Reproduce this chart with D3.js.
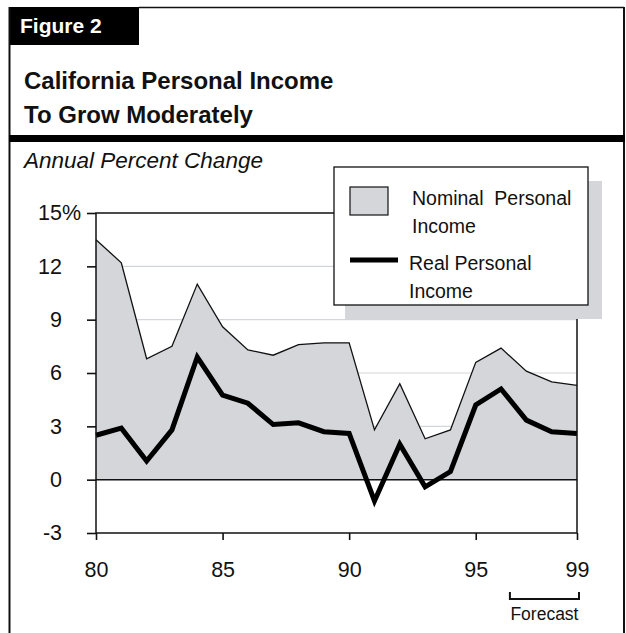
<!DOCTYPE html>
<html>
<head>
<meta charset="utf-8">
<script src="https://cdn.jsdelivr.net/npm/d3@7"></script>
<style>
  html, body { margin: 0; padding: 0; background: #fff; }
  svg { display: block; font-family: Arial, "Liberation Sans", sans-serif; }
</style>
</head>
<body>
<svg id="chart" width="626" height="633"></svg>
<script>
// Years shown on the horizontal axis (two-digit, 1980-1999)
const years = [80, 81, 82, 83, 84, 85, 86, 87, 88, 89, 90, 91, 92, 93, 94, 95, 96, 97, 98, 99];
// Annual percent change in California personal income
const nominalIncome = [13.5, 12.2, 6.8, 7.5, 11.0, 8.6, 7.3, 7.0, 7.6, 7.7, 7.7, 2.8, 5.4, 2.3, 2.8, 6.6, 7.4, 6.1, 5.5, 5.3];
const realIncome    = [2.5, 2.9, 1.05, 2.8, 6.9, 4.75, 4.3, 3.1, 3.2, 2.7, 2.6, -1.2, 2.0, -0.4, 0.45, 4.2, 5.1, 3.35, 2.7, 2.6];
// Axis ticks
const xTicks = [80, 85, 90, 95, 99];
const yTicks = [-3, 0, 3, 6, 9, 12, 15];
const gridTicks = [3, 6, 9, 12];
// Span of the forecast years, marked with a bracket under the axis
const forecastSpan = [96.35, 99];

const svg = d3.select("#chart");
const ink = "#111";
const fillGrey = "#d4d6da";

// ---- Frame, figure tab and title ----
svg.append("rect").attr("x", 9).attr("y", 7).attr("width", 130).attr("height", 38).attr("fill", "#000");
svg.append("line").attr("x1", 139).attr("x2", 624).attr("y1", 7.5).attr("y2", 7.5).attr("stroke", ink).attr("stroke-width", 1.5);
svg.append("line").attr("x1", 9.5).attr("x2", 9.5).attr("y1", 7).attr("y2", 633).attr("stroke", ink).attr("stroke-width", 2);
svg.append("line").attr("x1", 624).attr("x2", 624).attr("y1", 7).attr("y2", 633).attr("stroke", ink).attr("stroke-width", 2);
svg.append("rect").attr("x", 9).attr("y", 135).attr("width", 616).attr("height", 7).attr("fill", "#000");

svg.append("text").attr("x", 20).attr("y", 33).attr("fill", "#fff")
  .attr("font-size", 21).attr("font-weight", "bold").text("Figure 2");
svg.append("text").attr("x", 24).attr("y", 89).attr("fill", ink)
  .attr("font-size", 24).attr("font-weight", "bold").text("California Personal Income");
svg.append("text").attr("x", 24).attr("y", 123).attr("fill", ink)
  .attr("font-size", 24).attr("font-weight", "bold").text("To Grow Moderately");
svg.append("text").attr("x", 24).attr("y", 168).attr("fill", ink)
  .attr("font-size", 22.5).attr("font-style", "italic").text("Annual Percent Change");

// ---- Plot area ----
const plot = { left: 96, right: 577, top: 213, bottom: 533 };
const x = d3.scaleLinear().domain([80, 99]).range([plot.left, plot.right]);
const y = d3.scaleLinear().domain([-3, 15]).range([plot.bottom, plot.top]);

const g = svg.append("g");

// light horizontal gridlines
g.selectAll("line.grid").data(gridTicks).join("line")
  .attr("class", "grid")
  .attr("x1", plot.left).attr("x2", plot.right)
  .attr("y1", d => y(d)).attr("y2", d => y(d))
  .attr("stroke", "#d3d6da").attr("stroke-width", 1.2);

// nominal income as a filled area down to zero
const rows = years.map((yr, i) => ({ yr, nom: nominalIncome[i], real: realIncome[i] }));
g.append("path").datum(rows)
  .attr("d", d3.area().x(d => x(d.yr)).y0(y(0)).y1(d => y(d.nom)))
  .attr("fill", fillGrey);
g.append("path").datum(rows)
  .attr("d", d3.line().x(d => x(d.yr)).y(d => y(d.nom)))
  .attr("fill", "none").attr("stroke", ink).attr("stroke-width", 1.3);

// zero line
g.append("line").attr("x1", plot.left).attr("x2", plot.right)
  .attr("y1", y(0)).attr("y2", y(0)).attr("stroke", ink).attr("stroke-width", 1.5);

// real income line
g.append("path").datum(rows)
  .attr("d", d3.line().x(d => x(d.yr)).y(d => y(d.real)))
  .attr("fill", "none").attr("stroke", "#000").attr("stroke-width", 5)
  .attr("stroke-linejoin", "miter").attr("stroke-miterlimit", 3);

// plot box
g.append("rect").attr("x", plot.left).attr("y", plot.top)
  .attr("width", plot.right - plot.left).attr("height", plot.bottom - plot.top)
  .attr("fill", "none").attr("stroke", ink).attr("stroke-width", 1.5);

// y axis (plain hyphen for negatives)
const yAxis = g.append("g").attr("transform", `translate(${plot.left},0)`)
  .call(d3.axisLeft(y).tickValues(yTicks).tickSize(9).tickPadding(25).tickFormat(d => String(d)));
yAxis.select(".domain").remove();
yAxis.selectAll("line").attr("stroke", ink).attr("stroke-width", 1.6);
yAxis.selectAll("text").attr("font-size", 21.5).attr("fill", ink).attr("font-family", null);
yAxis.selectAll(".tick").filter(d => d === 15).select("text")
  .append("tspan").text("%");
// keep the number of the top label aligned with the others, letting "%" extend right
yAxis.selectAll(".tick").filter(d => d === 15).each(function () {
  const t = d3.select(this).select("text");
  const pct = t.select("tspan").node().getComputedTextLength();
  t.attr("x", +t.attr("x") + pct);
});

// x axis
const xAxis = g.append("g").attr("transform", `translate(0,${plot.bottom})`)
  .call(d3.axisBottom(x).tickValues(xTicks).tickSize(7).tickPadding(22).tickFormat(d => String(d)));
xAxis.select(".domain").remove();
xAxis.selectAll("line").attr("stroke", ink).attr("stroke-width", 1.6);
xAxis.selectAll("text").attr("font-size", 21.5).attr("fill", ink).attr("font-family", null);

// forecast bracket
const bx0 = x(forecastSpan[0]), bx1 = x(forecastSpan[1]) + 2;
svg.append("path")
  .attr("d", `M${bx0},592 V599 H${bx1} V592`)
  .attr("fill", "none").attr("stroke", ink).attr("stroke-width", 2);
svg.append("text").attr("x", (bx0 + bx1) / 2).attr("y", 620)
  .attr("text-anchor", "middle").attr("font-size", 17.5).attr("fill", ink).text("Forecast");

// ---- Legend with drop shadow ----
const lg = svg.append("g");
lg.append("rect").attr("x", 345).attr("y", 181).attr("width", 257).attr("height", 138).attr("fill", fillGrey);
lg.append("rect").attr("x", 334).attr("y", 167).attr("width", 254).attr("height", 138)
  .attr("fill", "#fff").attr("stroke", ink).attr("stroke-width", 1.3);
lg.append("rect").attr("x", 350).attr("y", 187).attr("width", 38).attr("height", 28)
  .attr("fill", fillGrey).attr("stroke", ink).attr("stroke-width", 1.2);
lg.append("line").attr("x1", 350).attr("x2", 398).attr("y1", 260).attr("y2", 260)
  .attr("stroke", "#000").attr("stroke-width", 5);
const legendText = [
  { x: 412, y: 205, t: "Nominal\u00a0 Personal" },
  { x: 412, y: 233, t: "Income" },
  { x: 409, y: 270, t: "Real Personal" },
  { x: 409, y: 298, t: "Income" }
];
lg.selectAll("text.lt").data(legendText).join("text")
  .attr("class", "lt").attr("x", d => d.x).attr("y", d => d.y)
  .attr("font-size", 19.5).attr("fill", ink).text(d => d.t);
</script>
</body>
</html>
